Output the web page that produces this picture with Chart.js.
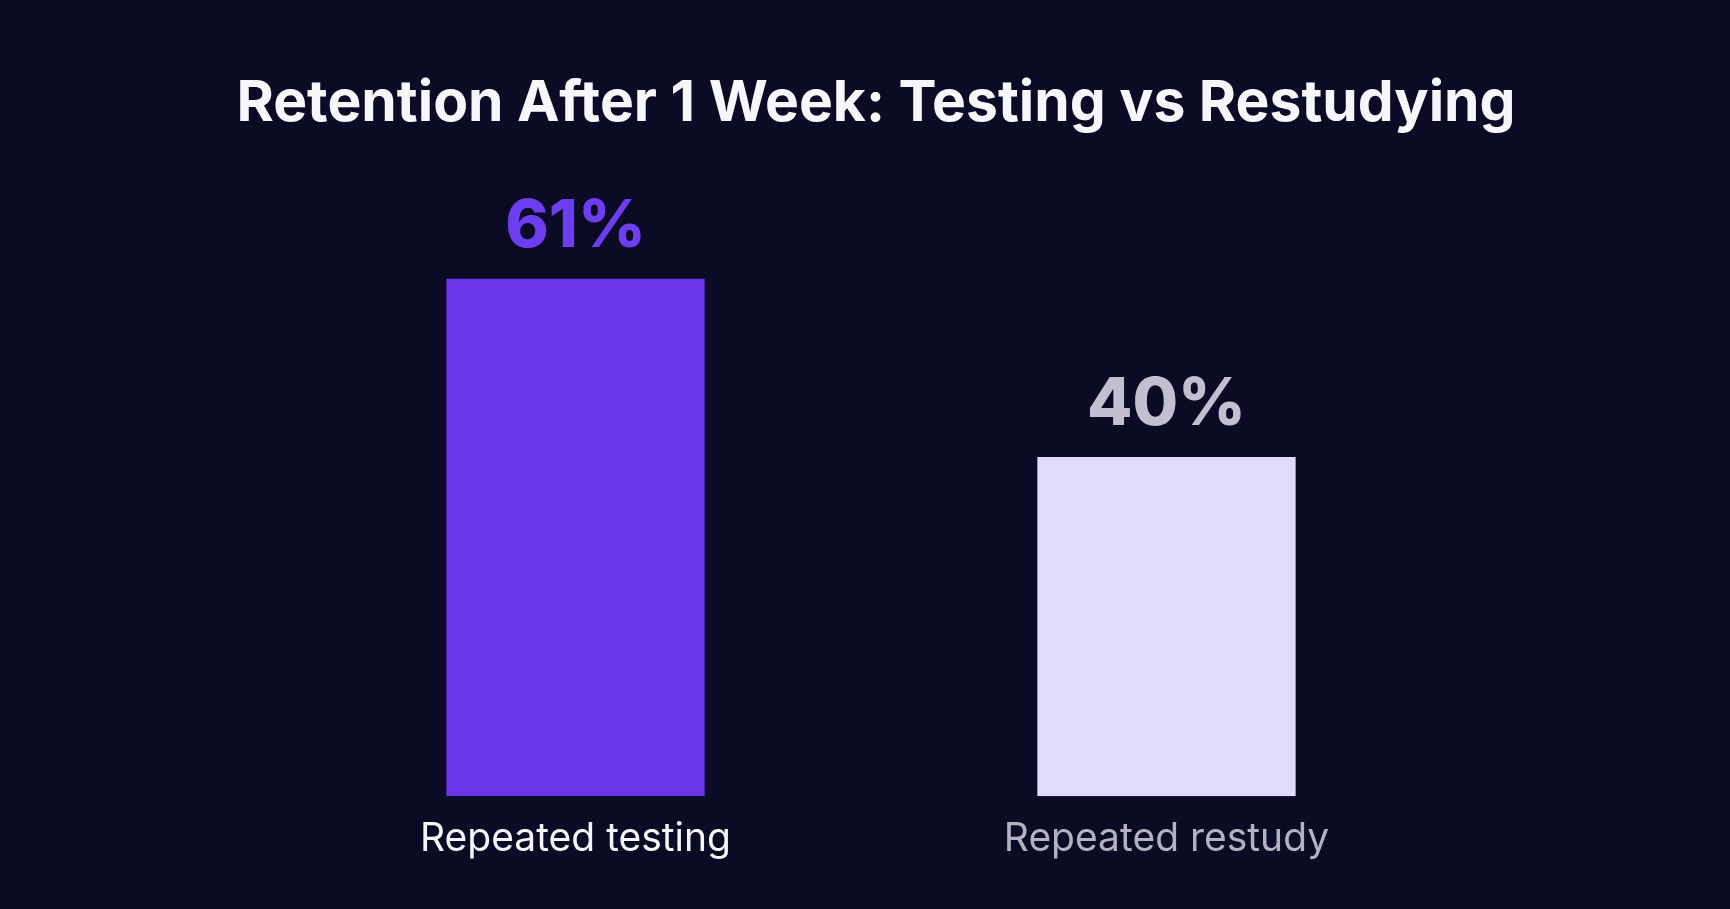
<!DOCTYPE html>
<html>
<head>
<meta charset="utf-8">
<script src="https://cdn.jsdelivr.net/npm/chart.js@4/dist/chart.umd.min.js"></script>
<style>
  html, body { margin: 0; padding: 0; background: #0b0b26; }
  #wrap { width: 1730px; height: 909px; }
</style>
</head>
<body>
<div id="wrap"><canvas id="c" width="1730" height="909"></canvas></div>
<script>
const chartTitle = 'Retention After 1 Week: Testing vs Restudying';
const categories = ['Repeated testing', 'Repeated restudy'];
const retention = [61, 40];
const valueLabels = ['61%', '40%'];
const barColors = ['#6a35e6', '#e1dbfb'];
const valueLabelColors = ['#6c3ef0', '#c3bfd0'];
const categoryLabelColors = ['#f5f5fa', '#b4b1c2'];

const valueLabelPlugin = {
  id: 'valueLabels',
  afterDatasetsDraw(chart) {
    const ctx = chart.ctx;
    const meta = chart.getDatasetMeta(0);
    ctx.save();
    ctx.font = '800 66px Inter, "Noto Sans", sans-serif';
    ctx.textAlign = 'center';
    ctx.textBaseline = 'middle';
    meta.data.forEach((bar, i) => {
      ctx.fillStyle = valueLabelColors[i];
      ctx.fillText(valueLabels[i], bar.x, bar.y - 52);
    });
    ctx.restore();
  }
};

const titlePlugin = {
  id: 'wideTitle',
  afterDraw(chart) {
    const ctx = chart.ctx;
    ctx.save();
    ctx.font = '700 57px Inter, "Noto Sans", sans-serif';
    ctx.fillStyle = '#f7f7fb';
    ctx.textAlign = 'center';
    ctx.textBaseline = 'middle';
    ctx.fillText(chartTitle, 876, 104);
    ctx.restore();
  }
};

new Chart(document.getElementById('c'), {
  type: 'bar',
  data: {
    labels: categories,
    datasets: [{
      data: retention,
      backgroundColor: barColors,
      borderWidth: 0,
      barPercentage: 0.437,
      categoryPercentage: 1.0
    }]
  },
  options: {
    responsive: false,
    animation: false,
    devicePixelRatio: 1,
    layout: { padding: { left: 280, right: 268, top: 194, bottom: 26 } },
    plugins: {
      legend: { display: false },
      tooltip: { enabled: false },
      title: { display: false }
    },
    scales: {
      x: {
        grid: { display: false, drawTicks: false },
        border: { display: false },
        ticks: {
          color: categoryLabelColors,
          padding: 20,
          font: { family: 'Inter, "Noto Sans", sans-serif', size: 39, weight: '400' }
        }
      },
      y: {
        display: false,
        min: 0,
        max: 71
      }
    }
  },
  plugins: [valueLabelPlugin, titlePlugin]
});
</script>
</body>
</html>
